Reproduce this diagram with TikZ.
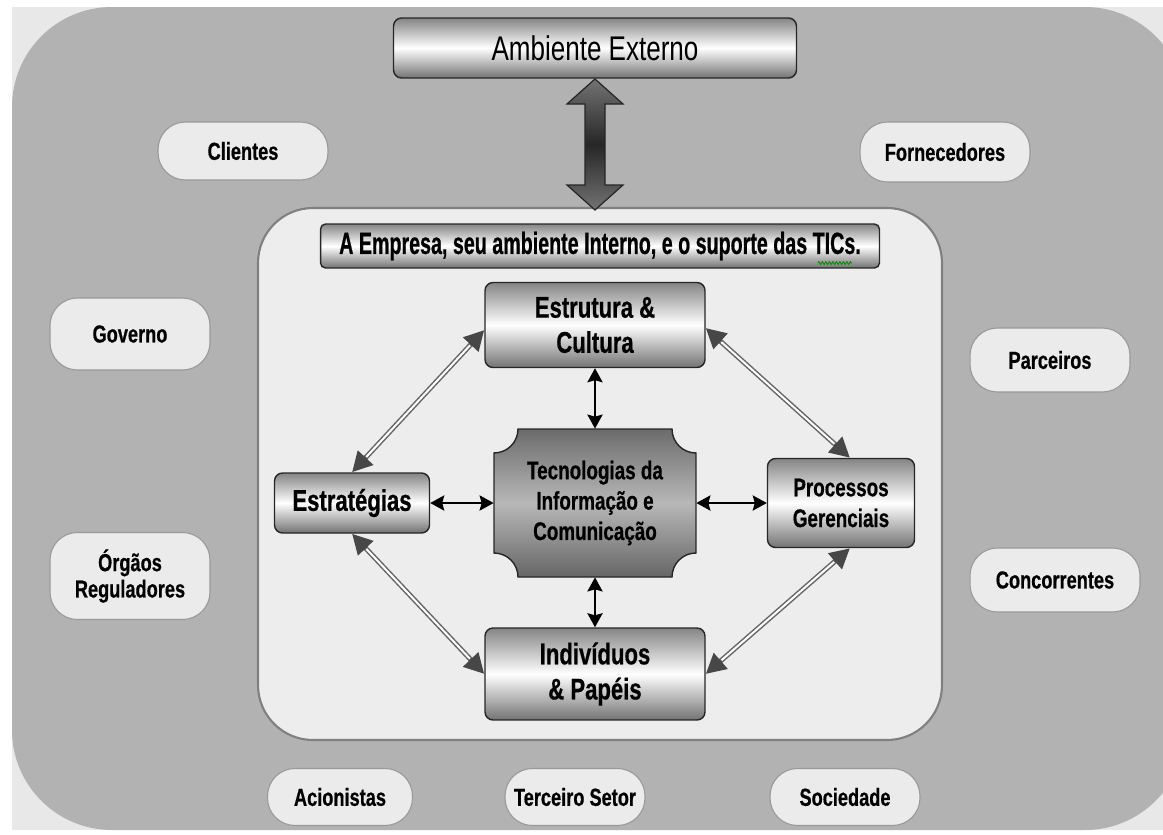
\documentclass[tikz,border=0pt]{standalone}
\usepackage{fontspec}
\setmainfont{Liberation Sans}
\newfontfamily\nb[FakeStretch=0.74,FakeBold=0.6]{Liberation Sans}
\newfontfamily\nc[FakeStretch=0.64,FakeBold=0.6]{Liberation Sans}
\newfontfamily\nr[FakeStretch=0.76]{Liberation Sans}
\usetikzlibrary{arrows.meta,decorations.pathmorphing,calc}
\begin{document}
\begin{tikzpicture}[x=0.02cm,y=-0.02cm,
  pill/.style={draw=black!40, line width=0.6pt, fill=black!8, rounded corners=0.55cm,
    align=center, inner sep=0pt, font=\nb\bfseries\fontsize{14}{15}\selectfont},
  metal/.style={draw=black!85, line width=0.8pt, rounded corners=0.16cm,
    top color=black!48, bottom color=black!55, middle color=white, align=center, inner sep=0pt},
  inbox/.style={metal, font=\nb\bfseries\fontsize{17}{20}\selectfont},
  link/.style={line width=1.5pt,
    {Stealth[length=0.28cm,width=0.3cm,inset=0.04cm]}-{Stealth[length=0.28cm,width=0.3cm,inset=0.04cm]}},
  dlbase/.style={draw=black!60, line width=0.1cm,
    {Triangle[length=0.4cm,width=0.4cm,color=black!72]}-{Triangle[length=0.4cm,width=0.4cm,color=black!72]}},
  dlcore/.style={draw=white, line width=0.04cm, shorten <=0.42cm, shorten >=0.42cm}
]
\useasboundingbox (0,0) rectangle (1163,835);
\fill[white] (0,0) rectangle (1163,835);
\fill[black!9] (12,7) rectangle (1163,830);
\begin{scope}
  \clip (12,7) rectangle (1163,830);
  \fill[black!30, rounded corners=2cm] (12,7) rectangle (1185,830);
\end{scope}

% outer pills
\node[pill, minimum width=3.4cm, minimum height=1.16cm] (cli) at (243,151) {Clientes};
\node[pill, minimum width=3.4cm, minimum height=1.2cm] (for) at (945,152) {Fornecedores};
\node[pill, minimum width=3.2cm, minimum height=1.44cm] (gov) at (130,334) {Governo};
\node[pill, minimum width=3.2cm, minimum height=1.28cm] (par) at (1050,360) {Parceiros};
\node[pill, minimum width=3.2cm, minimum height=1.74cm] (org) at (130,576) {Órgãos\\Reguladores};
\node[pill, minimum width=3.4cm, minimum height=1.28cm] (con) at (1055,580) {Concorrentes};
\node[pill, minimum width=2.9cm, minimum height=1.14cm] (aci) at (340,797) {Acionistas};
\node[pill, minimum width=2.8cm, minimum height=1.14cm] (ter) at (575,797) {Terceiro Setor};
\node[pill, minimum width=3.0cm, minimum height=1.14cm] (soc) at (845,797) {Sociedade};

% inner region
\draw[black!50, line width=1.2pt, fill=black!7, rounded corners=1.1cm] (258,208) rectangle (942,740);

% big double arrow
\draw[black!85, line width=0.7pt, top color=black!55, bottom color=black!55, middle color=black!85]
  (595,79) -- (623,104) -- (605,104) -- (605,185) -- (623,185) -- (595,210)
  -- (567,185) -- (585,185) -- (585,104) -- (567,104) -- cycle;

% top box
\node[metal, minimum width=8.06cm, minimum height=1.2cm, font=\nr\fontsize{19.5}{21}\selectfont] (amb) at (595,48) {Ambiente Externo};

% empresa bar
\node[metal, minimum width=11.18cm, minimum height=0.88cm, rounded corners=0.1cm, font=\nc\bfseries\fontsize{17.5}{19}\selectfont] (emp) at (600,246) {A Empresa, seu ambiente Interno, e o suporte das TICs.};
\draw[green!55!black, line width=0.5pt, decorate, decoration={zigzag, amplitude=0.03cm, segment length=0.07cm}] (818,263) -- (852,263);

% inner boxes
\node[inbox, minimum width=4.4cm, minimum height=1.7cm] (ec) at (595,325) {Estrutura \&\\Cultura};
\node[inbox, minimum width=3.1cm, minimum height=1.2cm] (est) at (352,503) {Estratégias};
\node[inbox, minimum width=2.94cm, minimum height=1.78cm, font=\nb\bfseries\fontsize{14.5}{17.5}\selectfont] (pg) at (841,503) {Processos\\Gerenciais};
\node[inbox, minimum width=4.4cm, minimum height=1.84cm] (ind) at (595,674) {Indivíduos\\\& Papéis};

% TIC shape
\draw[black!85, line width=0.8pt, top color=black!58, bottom color=black!60, middle color=black!28]
  (494,453) .. controls (507.25,453) and (518,442.25) .. (518,429) -- (672,429)
  .. controls (672,442.25) and (682.75,453) .. (696,453) -- (696,553)
  .. controls (682.75,553) and (672,563.75) .. (672,577) -- (518,577)
  .. controls (518,563.75) and (507.25,553) .. (494,553) -- cycle;
\node[minimum width=4.04cm, minimum height=2.96cm, inner sep=0pt, align=center,
  font=\nb\bfseries\fontsize{14.5}{17.3}\selectfont] (tic) at (595,503) {Tecnologias da\\Informação e\\Comunicação};

% black links
\draw[link] (ec) -- (tic);
\draw[link] (tic) -- (ind);
\draw[link] (est) -- (tic);
\draw[link] (tic) -- (pg);

% double diagonal links
\draw[dlbase] ([yshift=-0.1cm]ec.west) -- (est.north);
\draw[dlcore] ([yshift=-0.1cm]ec.west) -- (est.north);
\draw[dlbase] ([yshift=-0.06cm]ec.east) -- ([xshift=0.18cm]pg.north);
\draw[dlcore] ([yshift=-0.06cm]ec.east) -- ([xshift=0.18cm]pg.north);
\draw[dlbase] (est.south) -- (ind.west);
\draw[dlcore] (est.south) -- (ind.west);
\draw[dlbase] ([xshift=0.18cm]pg.south) -- (ind.east);
\draw[dlcore] ([xshift=0.18cm]pg.south) -- (ind.east);
\end{tikzpicture}
\end{document}
